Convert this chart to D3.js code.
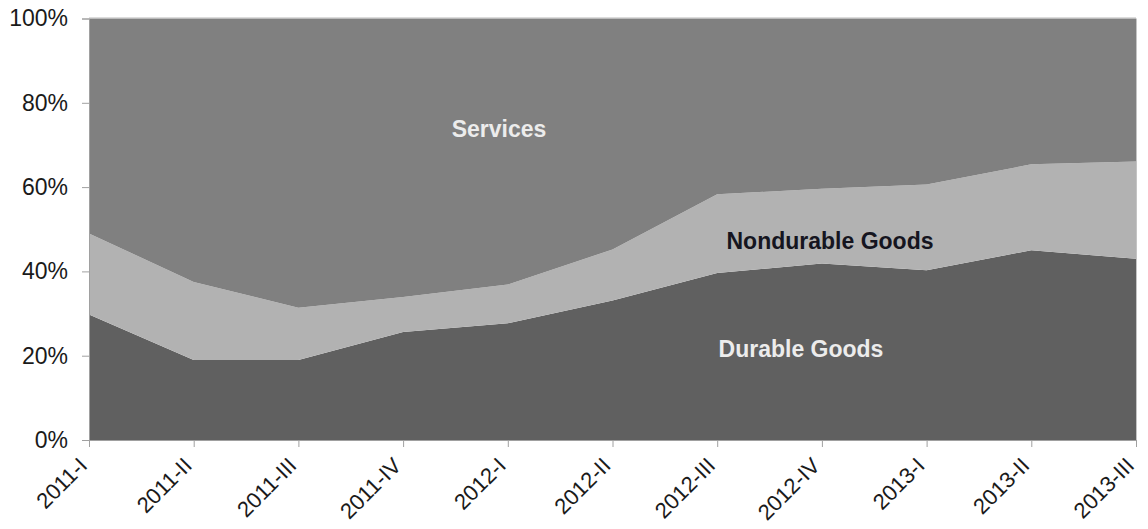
<!DOCTYPE html>
<html>
<head>
<meta charset="utf-8">
<script src="https://cdn.jsdelivr.net/npm/d3@7.9.0/dist/d3.min.js"></script>
<style>
  body { margin: 0; background: #fff; }
  svg { display: block; font-family: "Liberation Sans", Arial, sans-serif; }
</style>
</head>
<body>
<div id="viz"></div>
<script>
// quarters on the x axis
const quarters = ["2011-I", "2011-II", "2011-III", "2011-IV", "2012-I", "2012-II",
                  "2012-III", "2012-IV", "2013-I", "2013-II", "2013-III"];

// shares (%)
const durable    = [29.8, 19.0, 19.0, 25.6, 27.7, 33.1, 39.6, 41.9, 40.3, 45.0, 43.0];
const nondurable = [19.2, 18.5, 12.4,  8.3,  9.2, 12.1, 18.7, 17.7, 20.3, 20.4, 23.1];
const services   = [51.0, 62.5, 68.6, 66.1, 63.1, 54.8, 41.7, 40.4, 39.4, 34.6, 33.9];

const yTicks = [0, 20, 40, 60, 80, 100];

const seriesKeys = ["Durable Goods", "Nondurable Goods", "Services"];
const colors = { "Durable Goods": "#606060", "Nondurable Goods": "#b2b2b2", "Services": "#808080" };

// build rows for d3.stack
const rows = quarters.map((q, i) => ({
  quarter: q,
  "Durable Goods": durable[i],
  "Nondurable Goods": nondurable[i],
  "Services": services[i]
}));

const W = 1148, H = 529;
const margin = {top: 18.5, right: 12, bottom: 89, left: 89};
const width = W - margin.left - margin.right,
      height = H - margin.top - margin.bottom;

const svg = d3.select("#viz").append("svg")
    .attr("width", W)
    .attr("height", H);

const g = svg.append("g")
    .attr("transform", `translate(${margin.left},${margin.top})`);

const x = d3.scalePoint()
    .domain(quarters)
    .range([0, width]);

const y = d3.scaleLinear()
    .domain([0, 100])
    .range([height, 0]);

const stacked = d3.stack().keys(seriesKeys)(rows);

const area = d3.area()
    .x(d => x(d.data.quarter))
    .y0(d => y(d[0]))
    .y1(d => y(d[1]));

g.selectAll(".layer")
  .data(stacked)
  .join("path")
    .attr("class", "layer")
    .attr("fill", d => colors[d.key])
    .attr("d", area);

// thin frame on top and right
g.append("line")
    .attr("x1", 0).attr("x2", width)
    .attr("y1", -0.5).attr("y2", -0.5)
    .attr("stroke", "#b8b8b8");
g.append("line")
    .attr("x1", width + 0.5).attr("x2", width + 0.5)
    .attr("y1", 0).attr("y2", height)
    .attr("stroke", "#c4c4c4");

// y axis
const yAxis = g.append("g")
    .call(d3.axisLeft(y).tickValues(yTicks).tickFormat(d => d + "%").tickSize(7).tickPadding(14));
yAxis.selectAll("path, line").attr("stroke", "#a0a0a0");
yAxis.selectAll("text")
    .attr("fill", "#1a1a1a")
    .style("font-size", "23px");

// x axis
const xAxis = g.append("g")
    .attr("transform", `translate(0,${height})`)
    .call(d3.axisBottom(x).tickSize(7).tickPadding(0));
xAxis.selectAll("path, line").attr("stroke", "#a0a0a0");
xAxis.selectAll("text")
    .attr("fill", "#1a1a1a")
    .style("font-size", "22px")
    .attr("text-anchor", "end")
    .attr("dy", null)
    .attr("y", 0)
    .attr("transform", "translate(-1,27) rotate(-45)");

// labels inside the areas
const labels = [
  {text: "Services", x: 499, y: 137, color: "#ececec"},
  {text: "Nondurable Goods", x: 830, y: 249, color: "#151520"},
  {text: "Durable Goods", x: 801, y: 357, color: "#ececec"}
];
svg.selectAll(".lbl")
  .data(labels)
  .join("text")
    .attr("class", "lbl")
    .attr("x", d => d.x)
    .attr("y", d => d.y)
    .attr("text-anchor", "middle")
    .attr("fill", d => d.color)
    .style("font-size", "23px")
    .style("font-weight", "bold")
    .text(d => d.text);
</script>
</body>
</html>
